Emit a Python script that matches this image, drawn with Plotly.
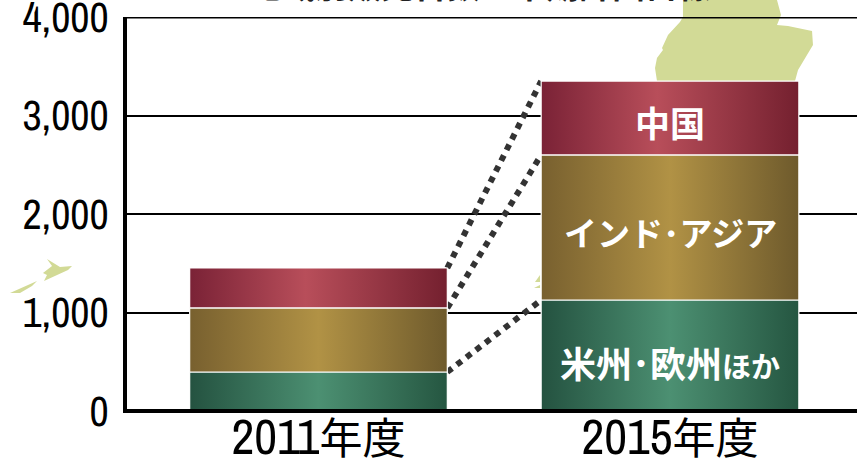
import plotly.graph_objects as go

W, H = 857, 459
PLOT_L, PLOT_R, PLOT_T, PLOT_B = 127, 857, 17, 413

years = ["2011年度", "2015年度"]
segment_names = ["米州・欧州ほか", "インド・アジア", "中国"]
americas_europe = [396, 1127]
india_asia = [650, 1473]
china = [406, 750]
y_ticks = [0, 1000, 2000, 3000, 4000]
y_tick_labels = ["0", "1,000", "2,000", "3,000", "4,000"]

LATIN = "Archivo Narrow, Noto Sans CJK JP, sans-serif"
CJK = "Noto Sans CJK JP, sans-serif"
BAR_W = 0.733

GRADIENTS = [
    [[0, "#245240"], [0.5, "#4C9072"], [1, "#255641"]],
    [[0, "#78602F"], [0.5, "#B19245"], [1, "#6E5A2C"]],
    [[0, "#7A2236"], [0.45, "#B84E5A"], [1, "#74202F"]],
]
BASE_COLORS = ["#3A7058", "#957A3A", "#9A3A4A"]


def px(x):
    return (x - PLOT_L) / (PLOT_R - PLOT_L)


def py(y):
    return (PLOT_B - y) / (PLOT_B - PLOT_T)


def land_path(points):
    return "M" + " L".join(f"{px(x):.4f},{py(y):.4f}" for x, y in points) + " Z"


# Pale map fragments behind the chart
LAND = [
    [(683, 0), (683, 17), (680, 22), (668, 35), (662, 48), (663, 50), (657, 58), (655, 68),
     (657, 81), (795, 81), (798, 70), (813, 45), (812, 31), (788, 26), (777, 25), (781, 15), (777, 0)],
    [(47, 259), (60, 267), (72, 266), (68, 270), (44, 281), (47, 275), (43, 273), (52, 266)],
    [(37, 281), (32, 286), (20, 293), (10, 293)],
    [(540, 275), (535, 282), (540, 282)],
    [(540, 285), (534, 288), (540, 288)],
]

shapes = [
    dict(type="path", xref="paper", yref="paper", path=land_path(p), layer="below",
         fillcolor="#D2DA96", line=dict(width=0))
    for p in LAND
]
# Heavy baseline sits over the feet of the bars; the top rule closes the frame
shapes.append(dict(type="line", xref="paper", yref="y", x0=0, x1=1, y0=0, y1=0,
                   layer="above", line=dict(color="#000000", width=4)))
shapes.append(dict(type="line", xref="paper", yref="y", x0=0, x1=1, y0=4000, y1=4000,
                   layer="above", line=dict(color="#000000", width=3)))

fig = go.Figure()
xs = [0, 1]
stacks = [americas_europe, india_asia, china]

for name, values, color in zip(segment_names, stacks, BASE_COLORS):
    fig.add_trace(go.Bar(x=xs, y=values, name=name, width=BAR_W,
                         marker=dict(color=color, line=dict(width=0)), hoverinfo="skip"))

# Connector lines between the stack boundaries of the two years
totals = [[0, 0], [0, 0], [0, 0]]
for i, values in enumerate(stacks):
    for j in xs:
        totals[i][j] = values[j] + (totals[i - 1][j] if i else 0)
for level in totals:
    fig.add_trace(go.Scatter(x=[BAR_W / 2, 1 - BAR_W / 2], y=level, mode="lines",
                             line=dict(color="#333333", width=6, dash="6px,6px"),
                             hoverinfo="skip"))

# Horizontal sheen on each stacked segment
for i, values in enumerate(stacks):
    for j in xs:
        lo = totals[i][j] - values[j]
        hi = totals[i][j]
        a, b = j - BAR_W / 2, j + BAR_W / 2
        fig.add_trace(go.Scatter(
            x=[a, b, b, a, a], y=[lo, lo, hi, hi, lo], mode="lines",
            line=dict(color="#FFFFFF", width=1.2), fill="toself",
            fillgradient=dict(type="horizontal", colorscale=GRADIENTS[i]),
            hoverinfo="skip"))


def segment_label(text, i, size, shift):
    mid = totals[i][1] - stacks[i][1] / 2
    return dict(x=1, y=mid, xref="x", yref="y", text=text, showarrow=False, yshift=shift,
                font=dict(family=CJK, size=size, color="#FFFFFF", weight="bold"))


annotations = [
    segment_label('米州･欧州<span style="font-size:29px">ほか</span>', 0, 36, -6),
    segment_label("インド･アジア", 1, 33, -5),
    segment_label("中国", 2, 35, -4),
    dict(x=px(480), y=py(10), xref="paper", yref="paper", yanchor="bottom", showarrow=False,
         text="地域別販売台数　中期計画目標",
         font=dict(family=CJK, size=33, color="#222222", weight="bold")),
]

tick_text = [
    f'<span style="font-size:50px">{y[:4]}</span>'
    f'<span style="font-family:{CJK};font-size:43px">{y[4:]}</span>'
    for y in years
]

fig.update_layout(
    width=W, height=H, autosize=False, barmode="stack", showlegend=False,
    margin=dict(l=PLOT_L, r=W - PLOT_R, t=PLOT_T, b=H - PLOT_B, pad=0, autoexpand=False),
    paper_bgcolor="#FFFFFF", plot_bgcolor="rgba(0,0,0,0)",
    shapes=shapes, annotations=annotations,
    xaxis=dict(range=[-0.5448, 1.532], tickmode="array", tickvals=xs, ticktext=tick_text,
               showgrid=False, zeroline=False, showline=False, ticks="outside", ticklen=2,
               tickcolor="rgba(0,0,0,0)", automargin=False, ticklabeloverflow="allow",
               tickfont=dict(family=LATIN, size=32, color="#000000")),
    yaxis=dict(range=[-20.3, 4000], tickmode="array", tickvals=y_ticks, ticktext=y_tick_labels,
               showgrid=True, gridcolor="#000000", gridwidth=2, zeroline=False,
               showline=True, linecolor="#000000", linewidth=4, ticks="outside", ticklen=6,
               tickcolor="rgba(0,0,0,0)", automargin=False, ticklabeloverflow="allow",
               tickfont=dict(family=LATIN, size=42, color="#000000")),
)

fig.write_html("out.html", config={"displayModeBar": False})
